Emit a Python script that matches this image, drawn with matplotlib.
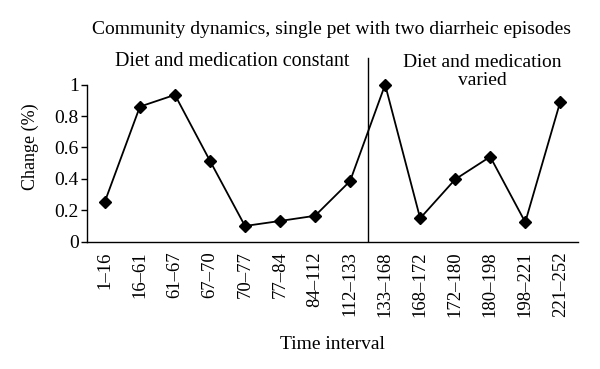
import matplotlib
matplotlib.use("Agg")
import matplotlib.pyplot as plt
import numpy as np

intervals = ["1–16", "16–61", "61–67", "67–70", "70–77", "77–84", "84–112",
             "112–133", "133–168", "168–172", "172–180", "180–198", "198–221", "221–252"]
change = [0.255, 0.86, 0.935, 0.515, 0.10, 0.132, 0.165,
          0.386, 1.0, 0.149, 0.397, 0.541, 0.124, 0.892]
y_ticks = [0, 0.2, 0.4, 0.6, 0.8, 1]
y_tick_labels = ["0", "0.2", "0.4", "0.6", "0.8", "1"]

plt.rcParams["font.family"] = ["Liberation Serif", "DejaVu Serif"]

fig = plt.figure(figsize=(6, 3.69), dpi=100)
ax = fig.add_axes([0.145, 0.345, 0.818, 0.515])

x = np.arange(len(intervals))
ax.plot(x, change, color="black", lw=1.3, marker="D", markersize=5.8,
        markerfacecolor="black", markeredgecolor="black")

# split between the two regimes
ax.axvline(7.5, ymax=0.965, color="black", lw=1.0)

ax.set_xlim(-0.51, len(intervals) - 0.5)
ax.set_ylim(0, 1.21)
ax.set_yticks(y_ticks)
ax.set_yticklabels(y_tick_labels, fontsize=14)
ax.set_xticks(x)
ax.set_xticklabels(intervals, rotation=90, fontsize=13.5)
ax.tick_params(axis="x", length=0, pad=7)
ax.tick_params(axis="y", length=4, width=1.0, direction="out", pad=2)

for s in ["top", "right"]:
    ax.spines[s].set_visible(False)
ax.spines["left"].set_bounds(0, 1)
ax.spines["left"].set_linewidth(1.0)
ax.spines["bottom"].set_linewidth(1.0)

ax.set_ylabel("Change (%)", fontsize=13, labelpad=11)
ax.set_xlabel("Time interval", fontsize=14, labelpad=14)

ax.text(3.64, 1.145, "Diet and medication constant", ha="center", va="center",
        fontsize=14.5)
ax.text(10.77, 1.085, "Diet and medication\nvaried", ha="center", va="center",
        fontsize=14, linespacing=1.05)

fig.text(0.553, 0.919, "Community dynamics, single pet with two diarrheic episodes",
         ha="center", va="center", fontsize=14)

fig.savefig("out.png", dpi=100)
